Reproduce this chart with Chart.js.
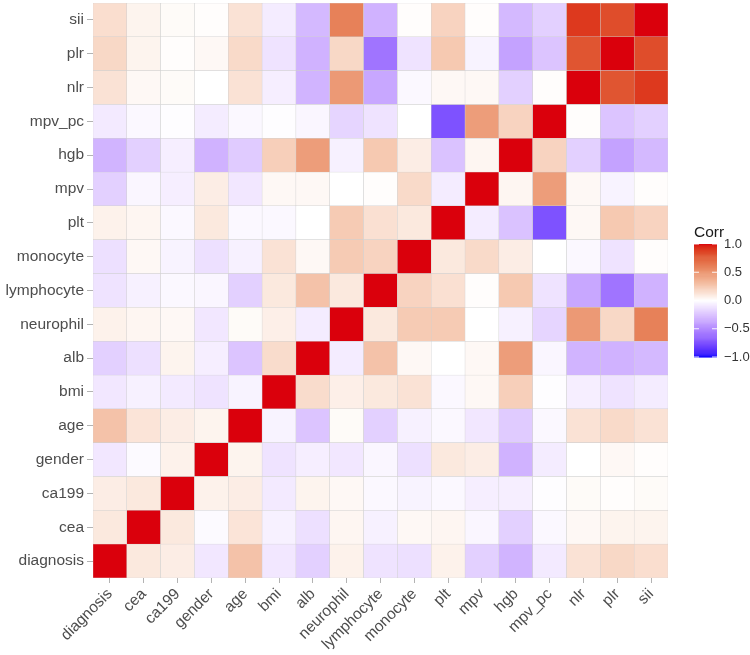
<!DOCTYPE html>
<html>
<head>
<meta charset="utf-8">
<script src="https://cdn.jsdelivr.net/npm/chart.js@4"></script>
<style>
  html, body { margin: 0; padding: 0; background: #ffffff; }
  #wrap { width: 750px; height: 655px; }
</style>
</head>
<body>
<div id="wrap"><canvas id="heat" width="750" height="655"></canvas></div>
<script>
// variable names, bottom row / left column first
const vars = ["diagnosis", "cea", "ca199", "gender", "age", "bmi", "alb", "neurophil",
  "lymphocyte", "monocyte", "plt", "mpv", "hgb", "mpv_pc", "nlr", "plr", "sii"];

// correlation rows (same column order as vars)
const diagnosis  = [1, 0.10, 0.08, -0.10, 0.28, -0.10, -0.20, 0.06, -0.12, -0.13, 0.06, -0.20, -0.32, -0.09, 0.13, 0.18, 0.15];
const cea        = [0.10, 1, 0.10, -0.02, 0.12, -0.06, -0.13, 0.04, -0.06, 0.03, 0.04, -0.04, -0.20, -0.03, 0.03, 0.05, 0.05];
const ca199      = [0.08, 0.10, 1, 0.06, 0.08, -0.09, 0.05, 0.03, -0.03, -0.05, -0.03, -0.07, -0.07, -0.01, 0.02, 0.01, 0.02];
const gender     = [-0.10, -0.02, 0.06, 1, 0.05, -0.12, -0.07, -0.10, -0.04, -0.13, 0.10, 0.08, -0.33, -0.08, 0.00, 0.03, 0.01];
const age        = [0.28, 0.12, 0.08, 0.05, 1, -0.05, -0.25, 0.02, -0.20, -0.06, -0.03, -0.10, -0.22, -0.03, 0.13, 0.17, 0.13];
const bmi        = [-0.10, -0.06, -0.09, -0.12, -0.05, 1, 0.16, 0.07, 0.10, 0.13, -0.03, 0.03, 0.22, -0.01, -0.07, -0.12, -0.08];
const alb        = [-0.20, -0.13, 0.05, -0.07, -0.25, 0.16, 1, -0.08, 0.28, 0.03, 0.00, 0.03, 0.46, -0.04, -0.32, -0.33, -0.30];
const neurophil  = [0.06, 0.04, 0.03, -0.10, 0.02, 0.07, -0.08, 1, 0.10, 0.24, 0.24, 0.00, -0.06, -0.18, 0.48, 0.18, 0.60];
const lymphocyte = [-0.12, -0.06, -0.03, -0.04, -0.20, 0.10, 0.28, 0.10, 1, 0.20, 0.14, 0.01, 0.25, -0.12, -0.38, -0.60, -0.33];
const monocyte   = [-0.13, 0.03, -0.05, -0.13, -0.06, 0.13, 0.03, 0.24, 0.20, 1, 0.10, 0.17, 0.08, 0.00, -0.03, -0.12, 0.01];
const plt        = [0.06, 0.04, -0.03, 0.10, -0.03, -0.03, 0.00, 0.24, 0.14, 0.10, 1, -0.08, -0.26, -0.75, 0.03, 0.25, 0.20];
const mpv        = [-0.20, -0.04, -0.07, 0.08, -0.10, 0.03, 0.03, 0.00, 0.01, 0.17, -0.08, 1, 0.04, 0.46, 0.03, -0.05, 0.01];
const hgb        = [-0.32, -0.20, -0.07, -0.33, -0.22, 0.22, 0.46, -0.06, 0.25, 0.08, -0.26, 0.04, 1, 0.20, -0.20, -0.40, -0.30];
const mpv_pc     = [-0.09, -0.03, -0.01, -0.08, -0.03, -0.01, -0.04, -0.18, -0.12, 0.00, -0.75, 0.46, 0.20, 1, 0.01, -0.25, -0.20];
const nlr        = [0.13, 0.03, 0.02, 0.00, 0.13, -0.07, -0.32, 0.48, -0.38, -0.03, 0.03, 0.03, -0.20, 0.01, 1, 0.80, 0.90];
const plr        = [0.18, 0.05, 0.01, 0.03, 0.17, -0.12, -0.33, 0.18, -0.60, -0.12, 0.25, -0.05, -0.40, -0.25, 0.80, 1, 0.83];
const sii        = [0.15, 0.05, 0.02, 0.01, 0.13, -0.08, -0.30, 0.60, -0.33, 0.01, 0.20, 0.01, -0.30, -0.20, 0.90, 0.83, 1];

const rows = [diagnosis, cea, ca199, gender, age, bmi, alb, neurophil, lymphocyte,
  monocyte, plt, mpv, hgb, mpv_pc, nlr, plr, sii];

const legendBreaks = [1.0, 0.5, 0.0, -0.5, -1.0];

// --- colour scale: blue / white / red, mixed in Lab like ggplot ---
const LOW = [0, 0, 255], MID = [255, 255, 255], HIGH = [218, 0, 12];

function lin(c) { c /= 255; return c <= 0.04045 ? c / 12.92 : Math.pow((c + 0.055) / 1.055, 2.4); }
function unlin(c) { c = c <= 0.0031308 ? 12.92 * c : 1.055 * Math.pow(c, 1 / 2.4) - 0.055; return Math.round(Math.min(1, Math.max(0, c)) * 255); }

function toLab(rgb) {
  const r = lin(rgb[0]), g = lin(rgb[1]), b = lin(rgb[2]);
  const x = (0.4124 * r + 0.3576 * g + 0.1805 * b) / 0.95047;
  const y = (0.2126 * r + 0.7152 * g + 0.0722 * b);
  const z = (0.0193 * r + 0.1192 * g + 0.9505 * b) / 1.08883;
  const f = t => t > 0.008856 ? Math.cbrt(t) : 7.787 * t + 16 / 116;
  const fx = f(x), fy = f(y), fz = f(z);
  return [116 * fy - 16, 500 * (fx - fy), 200 * (fy - fz)];
}

function fromLab(lab) {
  const fy = (lab[0] + 16) / 116, fx = fy + lab[1] / 500, fz = fy - lab[2] / 200;
  const finv = t => t > 0.206893 ? t * t * t : (t - 16 / 116) / 7.787;
  const x = finv(fx) * 0.95047, y = finv(fy), z = finv(fz) * 1.08883;
  const r = 3.2406 * x - 1.5372 * y - 0.4986 * z;
  const g = -0.9689 * x + 1.8758 * y + 0.0415 * z;
  const b = 0.0557 * x - 0.2040 * y + 1.0570 * z;
  return "rgb(" + unlin(r) + "," + unlin(g) + "," + unlin(b) + ")";
}

const labLow = toLab(LOW), labMid = toLab(MID), labHigh = toLab(HIGH);

function corrColour(v) {
  const end = v >= 0 ? labHigh : labLow;
  const t = Math.min(1, Math.abs(v));
  const lab = labMid.map((m, i) => m + (end[i] - m) * t);
  if (v > 0) {
    // the warm half of the reference runs a little more towards peach
    const k = 4 * t * (1 - t);
    lab[0] -= 3 * k;
    lab[1] -= 7 * k;
    lab[2] += 5 * k;
  }
  return fromLab(lab);
}

// one dataset per row, floating bars give the tiles
const datasets = rows.map((vals, r) => ({
  data: vars.map(() => [r, r + 1]),
  backgroundColor: vals.map(corrColour),
  borderColor: "#d0d0d0",
  borderWidth: 0.5,
  borderSkipped: false,
  grouped: false,
  barPercentage: 1,
  categoryPercentage: 1
}));

// colour bar legend
const colourBar = {
  id: "colourBar",
  afterDraw(chart) {
    const ctx = chart.ctx;
    const x0 = 694, w = 23, yTop = 244, yBot = 357;
    ctx.save();
    ctx.fillStyle = "#1a1a1a";
    ctx.font = "15.5px 'Liberation Sans', Arial, sans-serif";
    ctx.textBaseline = "alphabetic";
    ctx.textAlign = "left";
    ctx.fillText("Corr", 694, 237);

    const n = 120;
    const step = (yBot - yTop) / n;
    for (let i = 0; i < n; i++) {
      const v = 1 - 2 * (i + 0.5) / n;
      ctx.fillStyle = corrColour(v);
      ctx.fillRect(x0, yTop + i * step, w, step + 0.6);
    }

    ctx.font = "13px 'Liberation Sans', Arial, sans-serif";
    ctx.textBaseline = "middle";
    legendBreaks.forEach(b => {
      const y = yTop + (1 - b) / 2 * (yBot - yTop);
      ctx.strokeStyle = "rgba(255,255,255,0.9)";
      ctx.lineWidth = 1;
      ctx.beginPath();
      ctx.moveTo(x0, y); ctx.lineTo(x0 + 5, y);
      ctx.moveTo(x0 + w - 5, y); ctx.lineTo(x0 + w, y);
      ctx.stroke();
      ctx.fillStyle = "#333333";
      ctx.fillText(b.toFixed(1).replace("-", "\u2212"), 724, y);
    });
    ctx.restore();
  }
};

const axisFont = { family: "'Liberation Sans', Arial, sans-serif", size: 15.5 };

new Chart(document.getElementById("heat"), {
  type: "bar",
  data: { labels: vars, datasets: datasets },
  options: {
    responsive: false,
    animation: false,
    layout: { padding: { top: 3, right: 82, left: 0, bottom: 0 } },
    plugins: { legend: { display: false }, tooltip: { enabled: false } },
    scales: {
      x: {
        type: "category",
        offset: true,
        grid: { display: true, drawOnChartArea: false, offset: false, tickLength: 5, color: "#b3b3b3" },
        border: { display: false },
        ticks: { autoSkip: false, minRotation: 45, maxRotation: 45, color: "#4d4d4d", font: axisFont, padding: 2 },
        afterFit(s) { s.height = 77; s.paddingLeft = 0; s.paddingRight = 0; }
      },
      y: {
        type: "linear",
        min: 0,
        max: vars.length,
        grid: { display: true, drawOnChartArea: false, tickLength: 6, color: "#b3b3b3" },
        border: { display: false },
        afterBuildTicks(s) { s.ticks = vars.map((v, i) => ({ value: i + 0.5 })); },
        ticks: {
          autoSkip: false,
          color: "#4d4d4d",
          font: axisFont,
          padding: 3,
          callback: (val) => vars[Math.floor(val)]
        },
        afterFit(s) { s.width = 93; s.paddingTop = 0; s.paddingBottom = 0; }
      }
    }
  },
  plugins: [colourBar]
});
</script>
</body>
</html>
